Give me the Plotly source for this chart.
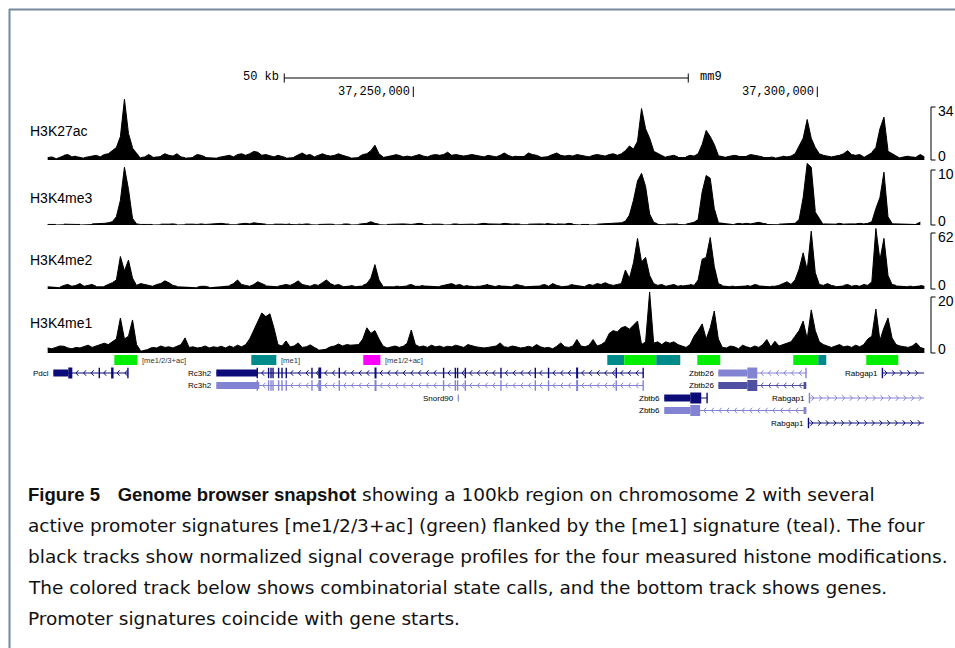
import numpy as np
import plotly.graph_objects as go

# ============================================================ DATA
# Signal coverage, 0.5 kb bins starting at chr2:37,204,750 (mm9); None = no data
BIN_START_KB = 37204.75
BIN_KB = 0.5

h3k27ac = [
    1.5, 2, 1, None, 3, 3.5, 2, 2.5, None, 1.5,
    2, 2.5, 3, 2, 3.5, 4, 6, 8, 15, 39,
    17, 8, None, 1.5, 2, 3.5, 2, None, 2.5, 4,
    3, 2.5, 4, 2, 1.5, None, 2, 3.5, 3, 2,
    None, None, 1.5, 2, 2.5, 3, 2, 3.5, 4, 3,
    4, 5.5, 5, 3, 3.5, 2.5, 2, 3, 2, 1.5,
    None, 2, 3, 4.5, 3, 3.5, 2, 3, 4, 3,
    2.5, 3, 4, 3, 2, 1.5, None, 2, 3.5, 4,
    6, 9.5, 4, 2, None, None, 3.5, 3, 2, 2.5,
    2, 3, 3.5, 2.5, 2, 3, 3.5, 3, 3.5, 5,
    3, 3.5, 3, 2.5, 3, 3.5, 3, 2.5, 2, 3,
    2.5, 2, 3, 4.5, 3, 2, 2.5, None, 2.5, 4.5,
    3.5, 3, 2, None, 2.5, 3.5, 4.5, 3, 2.5, 3,
    2.5, 3.5, 3, 2.5, 2, 3, 3.5, 3, 2.5, 3.5,
    4, 3, 4, 6, 9, 7, 12, 33, 20, 14,
    6, None, None, 2, 2.5, 3, 2, None, 2, 3,
    2.5, 4, 10, 19, 15, 10, 3, None, 2, 2.5,
    3, 2.5, None, 2.5, 3.5, 3, 2.5, 2, None, 2,
    1.5, None, 2.5, 2, 2.5, 4, 9, 14, 26, 14,
    8, 4, 3, 2.5, 2, 2.5, 3, 4, 6, 3.5,
    3, 3.5, 2, None, 5, 8, 20, 27.5, 6, None,
    None, 1.5, 2, 2.5, None, 2, 3.5, 2,
]

h3k4me3 = [
    0.1, 0.1, 0.1, None, 0.15, 0.1, 0.15, 0.1, 0.1, None,
    None, 0.2, 0.2, 0.3, 0.3, 0.4, 0.6, 1.5, 4.5, 10.5,
    6.5, 1.2, 0.2, 0.1, 0.15, 0.1, 0.1, None, 0.15, 0.1,
    0.15, 0.2, 0.1, None, 0.15, 0.2, 0.15, 0.1, 0.2, 0.1,
    0.15, 0.2, 0.15, 0.3, 0.2, 0.15, None, 0.15, 0.2, 0.3,
    0.2, 0.4, 0.3, 0.2, 0.15, None, 0.15, 0.2, 0.15, 0.1,
    0.2, None, 0.15, 0.1, 0.2, 0.15, None, 0.1, 0.15, 0.2,
    0.15, 0.1, None, 0.15, 0.2, 0.1, None, 0.15, 0.2, 0.3,
    0.6, 0.3, 0.15, None, 0.1, 0.15, 0.2, 0.15, 0.2, 0.15,
    0.1, 0.2, 0.3, 0.2, None, 0.15, 0.2, 0.15, 0.1, None,
    0.15, 0.2, 0.1, 0.15, 0.2, 0.15, 0.1, 0.2, 0.3, 0.2,
    0.15, 0.2, 0.15, 0.3, 0.2, 0.15, 0.2, 0.15, None, 0.15,
    0.2, 0.15, 0.2, 0.15, 0.3, None, 0.2, 0.15, 0.15, 0.3,
    0.2, None, 0.1, 0.15, 0.1, None, 0.15, 0.2, 0.15, 0.2,
    0.3, 0.3, 0.4, 0.7, 1.8, 4.5, 8, 9.4, 7, 2,
    0.5, 0.2, None, 0.15, 0.2, 0.15, 0.2, None, 0.15, 0.3,
    0.5, 1, 6, 9, 8.5, 3, 0.5, None, None, None,
    0.15, 0.3, 0.2, 0.3, 0.2, 0.3, 0.5, 0.3, 0.2, None,
    None, 0.15, 0.2, 0.15, 0.2, 0.3, 1, 5, 11.2, 10.5,
    2.5, None, 0.2, 0.15, 0.2, 0.15, 0.3, 0.15, 0.2, 0.15,
    0.2, 0.3, 0.2, 0.3, 0.6, 3, 5, 9.6, 1.5, 0.3,
    None, None, None, None, None, 0.2, 0.5, None,
]

h3k4me2 = [
    3, None, None, 2, 4, 5, 3, 4, 6, 3,
    4, 5, 3, None, 3, 5, 7, 10, 36, 20,
    32, 12, 4, 6, 5, 4, 3, 5, 6, 9,
    7, 4, 3, None, None, None, None, 2, 3, 3,
    2, None, None, None, None, 4, 6, 10, 5, 4,
    3, 5, 8, 6, 4, None, None, 3, 4, 5,
    4, 6, 9, 5, 4, 3, 5, 4, 7, 10,
    6, 4, 5, 3, None, 4, 3, None, 4, 6,
    12, 27, 10, 3, None, None, 3, 3, None, 4,
    5, 3, 3, 4, None, None, None, 3, 4, 5,
    6, 4, 5, 3, 4, None, 3, 3, 4, 5,
    None, 3, 4, None, None, 3, 5, 4, 3, None,
    None, None, 4, 5, 3, 6, 4, 3, None, 4,
    5, None, None, 3, 5, 4, 6, 5, 7, 5,
    4, 5, 6, 21, 12, 29, 56, 30, 35, 15,
    6, 4, 5, 3, 4, 5, 3, 4, None, 5,
    4, 10, 33, 35, 57, 25, 6, 4, None, 3,
    3, None, None, 4, 3, 5, 4, None, None, 3,
    3, 4, 6, 8, 5, 10, 22, 40, 21, 64,
    18, 5, 4, 6, 4, 3, None, 4, 5, 3,
    4, 3, 5, 4, 8, 67, 32, 56, 15, 5,
    4, None, None, 3, 3, None, 4, 3,
]

h3k4me1 = [
    1.8, 1.5, 2, 2.5, 2.4, 1.8, 1.5, 2, 1.8, 2.2,
    2.8, 2, 2.5, 3, 3.5, 3, 4, 5, 12.5, 5,
    6, 11.8, 3, 0.8, None, 1.5, 2, 1.8, 2.5, 2,
    2.2, 1.8, 2.5, 3, 5.4, 2, 2.2, 1.8, 2, 2.5,
    1.8, 2.2, 2, 2.4, 1.8, 2.5, 2, 2.8, 2.2, 3,
    5, 8, 11, 14.3, 13, 14, 9, 3, 2.5, 4.3,
    2.2, 2.5, 3.6, 2, 2.2, 2.9, 2, 1.2, None, 1.5,
    2.2, 2.5, 3.2, 2.5, 3, 2.8, 3, 3, 5, 9,
    7, 8, 5, 2.5, 1.8, 2.2, 2.5, 2, 2.4, 3.5,
    8.2, 3, 2.2, 2.5, 2, 2.8, 2.2, 2.5, 2, 2.4,
    2.2, 2.8, 2.5, 2, 3, 2.5, 2.2, 2, 1.8, 2,
    2.2, 2.5, 3.6, 2.2, 2, 2.5, 2.2, 1.8, 2, 2.4,
    2, 3, 2.2, 1.8, 2, 1.5, 2.4, 3.6, 2.2, 2,
    2.5, 4.8, 2.5, 2.2, 2.8, 4.8, 2.5, 3, 4, 7,
    8, 7.5, 9, 9.5, 8.5, 10, 11.4, 3, 4, 21.8,
    3.5, 4, 3, 4, 3.5, 4, 3, 2.5, 2, 3,
    6, 8, 10.4, 5, 9, 15, 5, 2, 1.8, 2.5,
    2.2, 1.5, 2.8, 2.2, 1.8, 2.5, 2, 3, 4.8, 2.2,
    4.2, 2.5, 3, 3.5, 4, 6, 8, 11.4, 5, 15.4,
    8, 4, 3, 2.5, 2, 2.5, 3, 2.2, 2.5, 2,
    2.8, 2.2, 3, 5, 6, 15.7, 4.5, 9, 12.5, 5.4,
    3, 2.5, 2.2, 2, 2.5, 3.6, 2, 1.5,
]

track_names = ["H3K27ac", "H3K4me3", "H3K4me2", "H3K4me1"]
track_view_max = [34, 10, 62, 20]

# combinatorial state calls (kb)
state_starts = [37213.00, 37229.95, 37243.81, 37274.01, 37276.11, 37280.07,
                37285.15, 37297.03, 37300.12, 37306.06]
state_ends = [37215.84, 37233.05, 37245.92, 37276.11, 37280.07, 37283.04,
              37287.99, 37300.12, 37301.11, 37310.02]
state_calls = ["[me1/2/3+ac]", "[me1]", "[me1/2+ac]", "[me1]", "[me1/2/3+ac]", "[me1]",
               "[me1/2/3+ac]", "[me1/2/3+ac]", "[me1]", "[me1/2/3+ac]"]

# genes (kb)
gene_names = ["Pdcl", "Rc3h2", "Rc3h2", "Snord90", "Zbtb26", "Zbtb26",
              "Zbtb6", "Zbtb6", "Rabgap1", "Rabgap1", "Rabgap1"]
gene_rows = [1, 1, 2, 3, 1, 2, 3, 4, 1, 3, 5]
gene_strands = ["-", "-", "-", "", "-", "-", "-", "-", "+", "+", "+"]
gene_starts = [37205.45, 37225.62, 37225.62, 37255.50, 37287.75, 37287.75,
               37281.06, 37281.06, 37308.04, 37299.01, 37298.89]
gene_ends = [37214.73, 37278.50, 37278.50, 37255.64, 37298.64, 37298.64,
             37286.39, 37298.64, 37313.20, 37313.20, 37313.20]
rc3h2_exons = [37230.69, 37232.09, 37232.39, 37232.64, 37233.33, 37233.75, 37234.28,
               37237.46, 37240.84, 37253.75, 37255.20, 37255.48, 37256.44, 37260.85,
               37265.10, 37266.74, 37275.12, 37278.45]
gene_utr = [
    [(37205.45, 37207.30)],
    [(37225.62, 37230.69)],
    [(37225.62, 37230.94)],
    [(37255.50, 37255.64)],
    [(37287.75, 37291.34)],
    [(37287.75, 37291.34), (37298.30, 37298.64)],
    [(37281.06, 37284.28)],
    [(37281.06, 37284.28), (37298.30, 37298.64)],
    [], [], [],
]
gene_cds = [
    [(37207.30, 37207.80), (37212.60, 37212.90)],
    [(37238.25, 37238.60), (37245.20, 37245.45), (37270.15, 37270.40)],
    [(37238.25, 37238.60), (37245.20, 37245.45), (37270.15, 37270.40)],
    [],
    [(37291.34, 37292.57)],
    [(37291.34, 37292.57)],
    [(37284.28, 37285.64)],
    [(37284.28, 37285.50)],
    [], [], [],
]
gene_exons = [
    [37211.14, 37214.68],
    rc3h2_exons,
    rc3h2_exons,
    [],
    [37298.60],
    [],
    [37286.36],
    [],
    [37308.06], [37299.03], [37298.91],
]

scale_bar_start_kb = 37234.03
scale_bar_len_kb = 50
position_ticks_kb = [37250, 37300]
assembly = "mm9"

BOLD = '<span style="font-family:Liberation Sans;font-weight:bold">'
caption_lines = [
    BOLD + "Figure 5</span>\u00a0\u00a0\u00a0" + BOLD + "Genome browser snapshot</span>"
    " showing a 100kb region on chromosome 2 with several",
    "active promoter signatures [me1/2/3+ac] (green) flanked by the [me1] signature (teal). The four",
    "black tracks show normalized signal coverage profiles for the four measured histone modifications.",
    "The colored track below shows combinatorial state calls, and the bottom track shows genes.",
    "Promoter signatures coincide with gene starts.",
]

# ============================================================ STYLE / LAYOUT
W, H = 955, 648
PX_PER_KB = 8.08
ANCHOR_KB, ANCHOR_PX = 37250.0, 413.3
X0 = ANCHOR_KB - ANCHOR_PX / PX_PER_KB
X1 = X0 + W / PX_PER_KB

STATE_COLORS = {"[me1/2/3+ac]": "#00ee00", "[me1]": "#008b8b", "[me1/2+ac]": "#ff00ff"}
NAVY, LIGHT, MED = "#0c0c78", "#8383d3", "#5050a2"
gene_colors = [NAVY, NAVY, LIGHT, LIGHT, LIGHT, MED, NAVY, LIGHT, NAVY, LIGHT, NAVY]

track_baseline_px = [160, 225, 289, 353]
track_top_px = [107, 170, 233, 297]
track_label_px = [131, 198, 260, 323]

LABEL_FONT = "Liberation Sans"
MONO = "Liberation Mono"
CAPTION_FONT = "DejaVu Sans"


def py(px):
    return 1 - px / H


def pxx(px):
    return px / W


fig = go.Figure()
layout = dict(
    width=W, height=H, margin=dict(l=0, r=0, t=0, b=0),
    paper_bgcolor="white", plot_bgcolor="rgba(0,0,0,0)", showlegend=False,
    xaxis=dict(range=[X0, X1], domain=[0, 1], visible=False, fixedrange=True, anchor="y"),
    barmode="overlay",
)
shapes, annotations = [], []

signals = [h3k27ac, h3k4me3, h3k4me2, h3k4me1]
pos = BIN_START_KB + BIN_KB * np.arange(len(h3k27ac))

for k, sig in enumerate(signals):
    b, t, S = track_baseline_px[k], track_top_px[k], track_view_max[k]
    ppu = (b - t) / S
    lo, hi = b + 2, b - 70
    yname = "yaxis" if k == 0 else f"yaxis{k + 1}"
    ref = "y" if k == 0 else f"y{k + 1}"
    layout[yname] = dict(domain=[py(lo), py(hi)], range=[-2 / ppu, 70 / ppu],
                         visible=False, anchor="x", fixedrange=True)
    fig.add_trace(go.Scatter(x=pos, y=sig, mode="lines", connectgaps=False,
                             line=dict(color="black", width=1), fill="tozeroy",
                             fillcolor="black", hoverinfo="skip", xaxis="x", yaxis=ref))
    # view-limit bracket
    xb = pxx(931)
    shapes.append(dict(type="line", xref="paper", yref=ref, x0=xb, x1=xb, y0=0, y1=S,
                       line=dict(color="black", width=1)))
    for yv in (0, S):
        shapes.append(dict(type="line", xref="paper", yref=ref, x0=xb, x1=pxx(935.5),
                           y0=yv, y1=yv, line=dict(color="black", width=1)))
    annotations.append(dict(xref="paper", yref=ref, x=pxx(936), y=S, text=str(S),
                            xanchor="left", yanchor="middle", yshift=-4, showarrow=False,
                            font=dict(family=LABEL_FONT, size=14, color="black")))
    annotations.append(dict(xref="paper", yref=ref, x=pxx(936), y=0, text="0",
                            xanchor="left", yanchor="middle", yshift=4, showarrow=False,
                            font=dict(family=LABEL_FONT, size=14, color="black")))
    annotations.append(dict(xref="paper", yref="paper", x=pxx(28), y=py(track_label_px[k]),
                            text=track_names[k], xanchor="left", yanchor="middle",
                            showarrow=False,
                            font=dict(family=LABEL_FONT, size=14, color="black")))

# ---- state calls
layout["yaxis5"] = dict(domain=[py(365), py(355)], range=[-0.5, 0.5], visible=False,
                        anchor="x", fixedrange=True)
fig.add_trace(go.Bar(
    x=[e - s for s, e in zip(state_starts, state_ends)], base=state_starts,
    y=[0] * len(state_starts), orientation="h", width=1,
    marker=dict(color=[STATE_COLORS[c] for c in state_calls], line=dict(width=0)),
    hoverinfo="skip", xaxis="x", yaxis="y5"))
seen = set()
for s, e, c in zip(state_starts, state_ends, state_calls):
    if c in seen:
        continue
    seen.add(c)
    annotations.append(dict(xref="x", yref="y5", x=e, y=0, text=c, xanchor="left",
                            yanchor="middle", xshift=3, showarrow=False,
                            font=dict(family=LABEL_FONT, size=7.6, color="#333333")))

# ---- genes
ROW_TOP_PX, ROW_H = 366.75, 12.5
layout["yaxis6"] = dict(domain=[py(ROW_TOP_PX + 5 * ROW_H), py(ROW_TOP_PX)],
                        range=[5.5, 0.5], visible=False, anchor="x", fixedrange=True)
chev = {}
for g in range(len(gene_names)):
    r, c = gene_rows[g], gene_colors[g]
    st, en = gene_starts[g], gene_ends[g]
    shapes.append(dict(type="line", xref="x", yref="y6", x0=st, x1=en, y0=r, y1=r,
                       line=dict(color=c, width=1)))
    for a, b in gene_utr[g]:
        shapes.append(dict(type="rect", xref="x", yref="y6", x0=a, x1=b, y0=r - 0.28,
                           y1=r + 0.28, fillcolor=c, line=dict(width=0)))
    for a, b in gene_cds[g]:
        shapes.append(dict(type="rect", xref="x", yref="y6", x0=a, x1=b, y0=r - 0.44,
                           y1=r + 0.44, fillcolor=c, line=dict(width=0)))
    for t in gene_exons[g]:
        shapes.append(dict(type="line", xref="x", yref="y6", x0=t, x1=t, y0=r - 0.42,
                           y1=r + 0.42, line=dict(color=c, width=1.4)))
    # strand chevrons in the free intron stretches
    if gene_strands[g]:
        covered = sorted(list(gene_utr[g]) + list(gene_cds[g]) +
                         [(t - 0.1, t + 0.1) for t in gene_exons[g]])
        segs, cur = [], st
        for a, b in covered:
            if a > cur:
                segs.append((cur, a))
            cur = max(cur, b)
        if en > cur:
            segs.append((cur, en))
        xs, ys = chev.setdefault(c, ([], []))
        for a, b in segs:
            for p in np.arange(a + 0.45, b - 0.2, 0.95):
                d = 0.3 if gene_strands[g] == "-" else -0.3
                xs += [p + d, p, p + d, None]
                ys += [r - 0.22, r, r + 0.22, None]
    annotations.append(dict(xref="x", yref="y6", x=st, y=r, text=gene_names[g],
                            xanchor="right", yanchor="middle", xshift=-2, showarrow=False,
                            font=dict(family=LABEL_FONT, size=8, color="black")))
for c, (xs, ys) in chev.items():
    fig.add_trace(go.Scatter(x=xs, y=ys, mode="lines", line=dict(color=c, width=1),
                             hoverinfo="skip", xaxis="x", yaxis="y6"))

# ---- scale bar and position ruler
sb0, sb1 = scale_bar_start_kb, scale_bar_start_kb + scale_bar_len_kb
shapes.append(dict(type="line", xref="x", yref="paper", x0=sb0, x1=sb1, y0=py(78), y1=py(78),
                   line=dict(color="black", width=1)))
for xv in (sb0, sb1):
    shapes.append(dict(type="line", xref="x", yref="paper", x0=xv, x1=xv, y0=py(73.5),
                       y1=py(82.5), line=dict(color="black", width=1)))
annotations.append(dict(xref="x", yref="paper", x=sb0, y=py(77), text=f"{scale_bar_len_kb} kb",
                        xanchor="right", yanchor="middle", xshift=-3, showarrow=False,
                        font=dict(family=MONO, size=12, color="black")))
annotations.append(dict(xref="x", yref="paper", x=sb1, y=py(77), text=assembly,
                        xanchor="left", yanchor="middle", xshift=10, showarrow=False,
                        font=dict(family=MONO, size=12, color="black")))
for tk in position_ticks_kb:
    shapes.append(dict(type="line", xref="x", yref="paper", x0=tk, x1=tk, y0=py(86.5),
                       y1=py(97), line=dict(color="black", width=1)))
    annotations.append(dict(xref="x", yref="paper", x=tk, y=py(92), text=f"{int(tk * 1000):,}",
                            xanchor="right", yanchor="middle", xshift=-1, showarrow=False,
                            font=dict(family=MONO, size=12, color="black")))

# ---- caption
cap_y = [494, 525, 556, 587, 618]
for txt, yv in zip(caption_lines, cap_y):
    annotations.append(dict(xref="paper", yref="paper", x=pxx(26), y=py(yv), text=txt,
                            xanchor="left", yanchor="middle", showarrow=False,
                            font=dict(family=CAPTION_FONT, size=18.5, color="#111111")))

# ---- frame
FRAME = "#7489a0"
shapes.append(dict(type="line", xref="paper", yref="paper", x0=pxx(9), x1=1, y0=py(9.5),
                   y1=py(9.5), line=dict(color=FRAME, width=2)))
shapes.append(dict(type="line", xref="paper", yref="paper", x0=pxx(9.5), x1=pxx(9.5),
                   y0=py(9), y1=0, line=dict(color=FRAME, width=2)))

layout["shapes"] = shapes
layout["annotations"] = annotations
fig.update_layout(**layout)
fig.write_html("out.html")
